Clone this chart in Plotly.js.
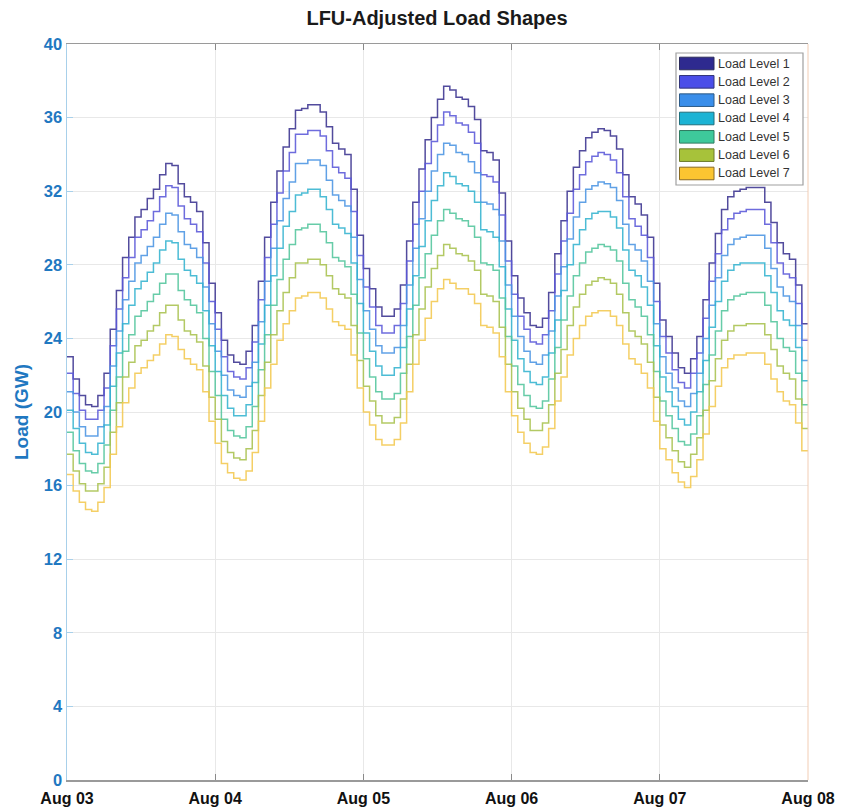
<!DOCTYPE html>
<html>
<head>
<meta charset="utf-8">
<script src="https://cdn.plot.ly/plotly-3.0.1.min.js"></script>
<style>
  html, body { margin: 0; padding: 0; background: #ffffff; }
  #chart { width: 842px; height: 809px; }
</style>
</head>
<body>
<div id="chart"></div>
<script>
// ---------------- DATA (hourly load, GW, Aug 03 00:00 -> Aug 07 23:00) ----------------
const startDay = 3;          // Aug 03
const dayTicks = ["2023-08-03", "2023-08-04", "2023-08-05", "2023-08-06", "2023-08-07", "2023-08-08"];
const levelNames = ["Load Level 1", "Load Level 2", "Load Level 3", "Load Level 4", "Load Level 5", "Load Level 6", "Load Level 7"];

const level1 = [
  23.0, 21.8, 20.9, 20.4, 20.3, 20.9, 22.1, 24.5, 26.6, 28.4, 29.5, 30.6, 31.0, 31.6, 32.1, 32.9, 33.5, 33.4, 32.4, 31.7, 31.4, 30.9, 29.2, 27.0,
  25.4, 23.9, 23.1, 22.7, 22.6, 23.3, 24.7, 27.1, 29.5, 31.4, 33.1, 34.4, 35.4, 36.4, 36.5, 36.7, 36.7, 36.3, 35.5, 34.6, 34.3, 34.0, 32.1, 29.6,
  27.8, 26.7, 25.7, 25.2, 25.2, 25.6, 26.9, 29.3, 31.4, 33.2, 34.8, 36.0, 37.0, 37.7, 37.5, 37.1, 37.0, 36.6, 35.9, 34.2, 34.1, 33.7, 31.9, 29.3,
  27.4, 26.2, 25.4, 24.7, 24.6, 25.1, 26.5, 28.6, 30.4, 32.0, 33.3, 34.2, 34.9, 35.2, 35.4, 35.3, 35.0, 34.3, 32.9, 31.7, 31.3, 30.7, 29.5, 27.0,
  25.0, 24.1, 23.2, 22.4, 22.1, 22.9, 24.1, 26.1, 28.1, 29.7, 31.0, 31.7, 32.0, 32.1, 32.2, 32.2, 32.2, 31.4, 30.3, 29.2, 28.6, 28.3, 26.9, 24.8
];
const level2 = [
  22.1, 21.0, 20.1, 19.6, 19.6, 20.1, 21.3, 23.6, 25.6, 27.3, 28.4, 29.5, 29.9, 30.4, 30.9, 31.7, 32.3, 32.2, 31.2, 30.5, 30.2, 29.8, 28.1, 26.0,
  24.5, 23.0, 22.2, 21.9, 21.8, 22.4, 23.8, 26.1, 28.4, 30.2, 31.9, 33.1, 34.1, 35.1, 35.1, 35.3, 35.3, 35.0, 34.2, 33.3, 33.0, 32.7, 30.9, 28.5,
  26.8, 25.7, 24.7, 24.3, 24.3, 24.7, 25.9, 28.2, 30.2, 32.0, 33.5, 34.7, 35.6, 36.3, 36.1, 35.7, 35.6, 35.2, 34.6, 32.9, 32.8, 32.5, 30.7, 28.2,
  26.4, 25.2, 24.5, 23.8, 23.7, 24.2, 25.5, 27.5, 29.3, 30.8, 32.1, 32.9, 33.6, 33.9, 34.1, 34.0, 33.7, 33.0, 31.7, 30.5, 30.1, 29.6, 28.4, 26.0,
  24.1, 23.2, 22.3, 21.6, 21.3, 22.1, 23.2, 25.1, 27.1, 28.6, 29.9, 30.5, 30.8, 30.9, 31.0, 31.0, 31.0, 30.2, 29.2, 28.1, 27.5, 27.3, 25.9, 23.9
];
const level3 = [
  21.1, 20.0, 19.2, 18.7, 18.7, 19.2, 20.3, 22.5, 24.4, 26.1, 27.1, 28.1, 28.5, 29.0, 29.5, 30.2, 30.8, 30.7, 29.8, 29.1, 28.9, 28.4, 26.8, 24.8,
  23.3, 22.0, 21.2, 20.9, 20.8, 21.4, 22.7, 24.9, 27.1, 28.9, 30.4, 31.6, 32.5, 33.5, 33.5, 33.7, 33.7, 33.4, 32.6, 31.8, 31.5, 31.2, 29.5, 27.2,
  25.5, 24.5, 23.6, 23.2, 23.2, 23.5, 24.7, 26.9, 28.9, 30.5, 32.0, 33.1, 34.0, 34.6, 34.5, 34.1, 34.0, 33.6, 33.0, 31.4, 31.3, 31.0, 29.3, 26.9,
  25.2, 24.1, 23.3, 22.7, 22.6, 23.1, 24.4, 26.3, 27.9, 29.4, 30.6, 31.4, 32.1, 32.3, 32.5, 32.4, 32.2, 31.5, 30.2, 29.1, 28.8, 28.2, 27.1, 24.8,
  23.0, 22.1, 21.3, 20.6, 20.3, 21.0, 22.1, 24.0, 25.8, 27.3, 28.5, 29.1, 29.4, 29.5, 29.6, 29.6, 29.6, 28.9, 27.8, 26.8, 26.3, 26.0, 24.7, 22.8
];
const level4 = [
  20.1, 19.1, 18.3, 17.8, 17.7, 18.3, 19.3, 21.4, 23.2, 24.8, 25.8, 26.7, 27.1, 27.6, 28.1, 28.8, 29.3, 29.2, 28.3, 27.7, 27.4, 27.0, 25.5, 23.6,
  22.2, 20.9, 20.2, 19.8, 19.8, 20.4, 21.6, 23.7, 25.8, 27.4, 28.9, 30.1, 30.9, 31.8, 31.9, 32.1, 32.1, 31.7, 31.0, 30.2, 30.0, 29.7, 28.1, 25.9,
  24.3, 23.3, 22.5, 22.0, 22.0, 22.4, 23.5, 25.6, 27.4, 29.0, 30.4, 31.5, 32.3, 33.0, 32.8, 32.4, 32.3, 32.0, 31.4, 29.9, 29.8, 29.5, 27.9, 25.6,
  23.9, 22.9, 22.2, 21.6, 21.5, 21.9, 23.2, 25.0, 26.6, 28.0, 29.1, 29.9, 30.5, 30.8, 30.9, 30.9, 30.6, 30.0, 28.8, 27.7, 27.4, 26.8, 25.8, 23.6,
  21.9, 21.1, 20.3, 19.6, 19.3, 20.0, 21.1, 22.8, 24.6, 26.0, 27.1, 27.7, 28.0, 28.1, 28.1, 28.1, 28.1, 27.4, 26.5, 25.5, 25.0, 24.7, 23.5, 21.7
];
const level5 = [
  18.9, 17.9, 17.2, 16.8, 16.7, 17.2, 18.2, 20.1, 21.9, 23.3, 24.2, 25.2, 25.5, 26.0, 26.4, 27.0, 27.5, 27.5, 26.6, 26.1, 25.8, 25.4, 24.0, 22.2,
  20.9, 19.6, 19.0, 18.7, 18.6, 19.2, 20.3, 22.3, 24.2, 25.8, 27.2, 28.3, 29.1, 29.9, 30.0, 30.2, 30.2, 29.8, 29.2, 28.4, 28.2, 27.9, 26.4, 24.3,
  22.9, 21.9, 21.1, 20.7, 20.7, 21.0, 22.1, 24.1, 25.8, 27.3, 28.6, 29.6, 30.4, 31.0, 30.8, 30.5, 30.4, 30.1, 29.5, 28.1, 28.0, 27.7, 26.2, 24.1,
  22.5, 21.5, 20.9, 20.3, 20.2, 20.6, 21.8, 23.5, 25.0, 26.3, 27.4, 28.1, 28.7, 28.9, 29.1, 29.0, 28.8, 28.2, 27.0, 26.1, 25.7, 25.2, 24.2, 22.2,
  20.6, 19.8, 19.1, 18.4, 18.2, 18.8, 19.8, 21.5, 23.1, 24.4, 25.5, 26.1, 26.3, 26.4, 26.5, 26.5, 26.5, 25.8, 24.9, 24.0, 23.5, 23.3, 22.1, 20.4
];
const level6 = [
  17.7, 16.8, 16.1, 15.7, 15.7, 16.1, 17.0, 18.9, 20.5, 21.9, 22.7, 23.6, 23.9, 24.4, 24.7, 25.4, 25.8, 25.8, 25.0, 24.4, 24.2, 23.8, 22.5, 20.8,
  19.6, 18.4, 17.8, 17.5, 17.4, 18.0, 19.0, 20.9, 22.7, 24.2, 25.5, 26.5, 27.3, 28.1, 28.1, 28.3, 28.3, 28.0, 27.4, 26.7, 26.4, 26.2, 24.7, 22.8,
  21.4, 20.6, 19.8, 19.4, 19.4, 19.7, 20.7, 22.6, 24.2, 25.6, 26.8, 27.8, 28.5, 29.1, 28.9, 28.6, 28.5, 28.2, 27.7, 26.4, 26.3, 26.0, 24.6, 22.6,
  21.1, 20.2, 19.6, 19.0, 19.0, 19.4, 20.4, 22.1, 23.4, 24.7, 25.7, 26.4, 26.9, 27.1, 27.3, 27.2, 27.0, 26.4, 25.4, 24.4, 24.1, 23.7, 22.7, 20.8,
  19.3, 18.6, 17.9, 17.3, 17.0, 17.7, 18.6, 20.1, 21.7, 22.9, 23.9, 24.4, 24.7, 24.7, 24.8, 24.8, 24.8, 24.2, 23.4, 22.5, 22.1, 21.8, 20.7, 19.1
];
const level7 = [
  16.6, 15.7, 15.1, 14.7, 14.6, 15.1, 15.9, 17.7, 19.2, 20.5, 21.3, 22.1, 22.4, 22.8, 23.1, 23.7, 24.2, 24.1, 23.4, 22.9, 22.6, 22.3, 21.1, 19.5,
  18.3, 17.2, 16.7, 16.4, 16.3, 16.8, 17.8, 19.5, 21.3, 22.6, 23.9, 24.8, 25.5, 26.2, 26.3, 26.5, 26.5, 26.2, 25.6, 24.9, 24.7, 24.5, 23.1, 21.3,
  20.0, 19.3, 18.5, 18.2, 18.2, 18.5, 19.4, 21.1, 22.6, 23.9, 25.1, 26.0, 26.7, 27.2, 27.0, 26.7, 26.7, 26.4, 25.9, 24.7, 24.6, 24.3, 23.0, 21.1,
  19.8, 18.9, 18.3, 17.8, 17.7, 18.1, 19.1, 20.6, 21.9, 23.1, 24.0, 24.7, 25.2, 25.4, 25.5, 25.5, 25.2, 24.7, 23.7, 22.9, 22.6, 22.1, 21.3, 19.5,
  18.0, 17.4, 16.7, 16.2, 15.9, 16.5, 17.4, 18.8, 20.3, 21.4, 22.4, 22.9, 23.1, 23.1, 23.2, 23.2, 23.2, 22.6, 21.8, 21.1, 20.6, 20.4, 19.4, 17.9
];
const levels = [level1, level2, level3, level4, level5, level6, level7];

// ---------------- STYLE ----------------
const lineColors = ["#3a3290", "#5a58d8", "#4a94e2", "#33b3cf", "#52c59c", "#a9c24e", "#f2c850"];
const swatchFill = ["#2e2a8f", "#4b4ee8", "#3a8eea", "#1bb3d4", "#3ec99b", "#a7c23a", "#fbc531"];
const swatchEdge = ["#2a2a5a", "#33357a", "#2d5a86", "#1f6f7c", "#2f7a60", "#6c7a2a", "#8a6a22"];

function pad(n) { return (n < 10 ? "0" : "") + n; }
// timestamps for hour starts, plus one closing point at the end (for the step outline)
const xTimes = [];
for (let h = 0; h <= level1.length; h++) {
  const d = startDay + Math.floor(h / 24);
  xTimes.push("2023-08-" + pad(d) + " " + pad(h % 24) + ":00");
}

const traces = levels.map((vals, i) => ({
  type: "scatter",
  mode: "lines",
  x: xTimes,
  y: vals.concat([vals[vals.length - 1]]),
  name: levelNames[i],
  line: { color: lineColors[i], width: 1.5, shape: "hv" },
  opacity: 0.88,
  showlegend: false,
  hoverinfo: "x+y+name"
}));

// plot area in pixels: x 67..808, y 44..780
const L = 67, R = 808, T = 44, B = 780;
const px = x => (x - L) / (R - L);
const py = y => (B - y) / (B - T);

const shapes = [];
const annotations = [];
// right spine (faint orange)
shapes.push({ type: "line", xref: "paper", yref: "paper", x0: 1, x1: 1, y0: 0, y1: 1,
  line: { color: "#f2cdb4", width: 1 } });
// legend box
shapes.push({ type: "rect", xref: "paper", yref: "paper",
  x0: px(676), x1: px(803), y0: py(185), y1: py(53),
  fillcolor: "#ffffff", line: { color: "#a0a0a0", width: 1.2 } });
levelNames.forEach((nm, i) => {
  const cy = 63.5 + i * 18.33;
  shapes.push({ type: "rect", xref: "paper", yref: "paper",
    x0: px(679.5), x1: px(714), y0: py(cy + 6.3), y1: py(cy - 6.3),
    fillcolor: swatchFill[i], line: { color: swatchEdge[i], width: 1 } });
  annotations.push({ xref: "paper", yref: "paper", x: px(715.5), y: py(cy),
    xanchor: "left", yanchor: "middle", showarrow: false, text: nm,
    font: { family: "Liberation Sans, Arial, sans-serif", size: 12.5, color: "#333333" } });
});

const layout = {
  width: 842, height: 809,
  margin: { l: L, r: 842 - R, t: T, b: 809 - B, pad: 0 },
  paper_bgcolor: "#ffffff", plot_bgcolor: "#ffffff",
  showlegend: false,
  title: {
    text: "<b>LFU-Adjusted Load Shapes</b>",
    x: 0.519, xanchor: "center", y: 0.978, yanchor: "middle",
    font: { family: "Liberation Sans, Arial, sans-serif", size: 20, color: "#1a1a1a" }
  },
  xaxis: {
    type: "date",
    range: [dayTicks[0], dayTicks[dayTicks.length - 1]],
    tickmode: "array",
    tickvals: dayTicks,
    ticktext: dayTicks.map(d => "<b>Aug " + d.slice(8) + "</b>"),
    tickfont: { family: "Liberation Sans, Arial, sans-serif", size: 16, color: "#111111" },
    ticklabelstandoff: 3,
    showgrid: true, gridcolor: "#e8e8e8", gridwidth: 1,
    showline: true, linecolor: "#9a9a9a", linewidth: 1.5, mirror: "ticks",
    ticks: "inside", ticklen: 6, tickcolor: "#8a8a8a", tickwidth: 1,
    zeroline: false, fixedrange: true
  },
  yaxis: {
    range: [0, 40],
    tickmode: "linear", tick0: 0, dtick: 4,
    tickfont: { family: "Liberation Sans, Arial, sans-serif", size: 16.5, color: "#1f78c1", weight: "bold" },
    title: { text: "<b>Load (GW)</b>", standoff: 10,
      font: { family: "Liberation Sans, Arial, sans-serif", size: 19, color: "#1f78c1" } },
    showgrid: true, gridcolor: "#e8e8e8", gridwidth: 1,
    showline: true, linecolor: "#a8d0ea", linewidth: 1.5,
    ticks: "inside", ticklen: 6, tickcolor: "#a8d0ea",
    zeroline: false, fixedrange: true
  },
  shapes: shapes,
  annotations: annotations
};

Plotly.newPlot("chart", traces, layout, { displayModeBar: false, staticPlot: true });
</script>
</body>
</html>
